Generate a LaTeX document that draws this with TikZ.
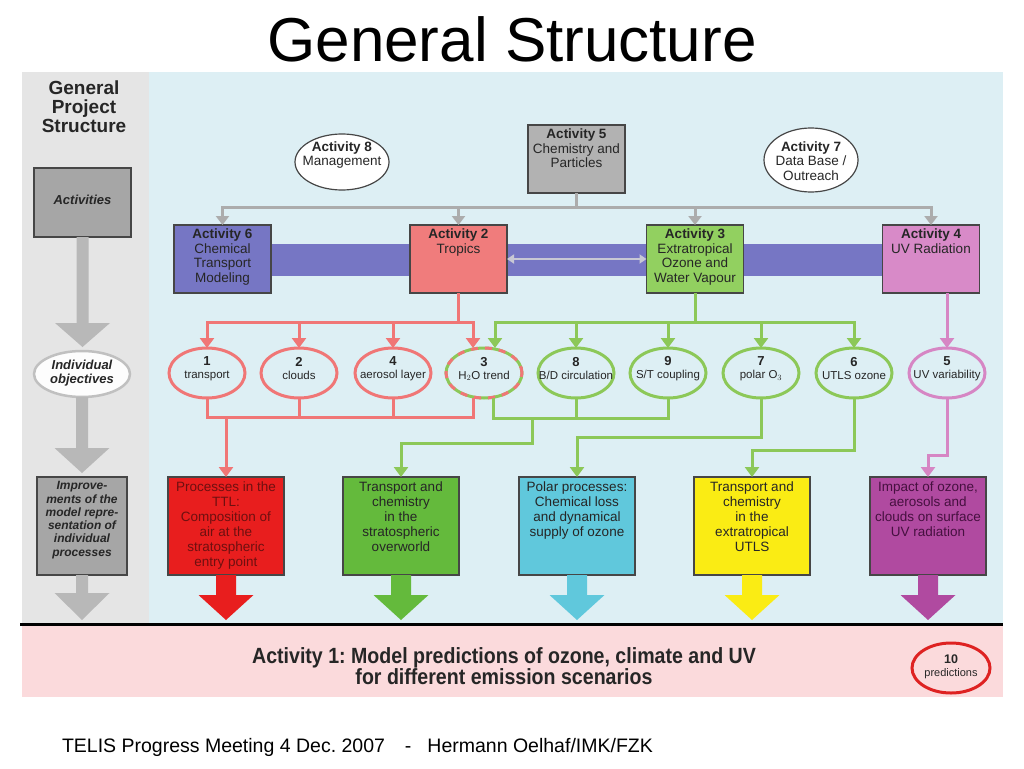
\documentclass[tikz,border=0pt]{standalone}
\usepackage{fontspec}
\setmainfont{Liberation Sans}
\usetikzlibrary{shapes.geometric,arrows.meta,calc}
\frenchspacing
\definecolor{bgblue}{RGB}{221,239,244}
\definecolor{panelgrey}{RGB}{229,229,229}
\definecolor{bandpink}{RGB}{251,218,220}
\definecolor{conngrey}{RGB}{172,172,172}
\definecolor{leftgrey}{RGB}{184,184,184}
\definecolor{boxgrey}{RGB}{166,166,166}
\definecolor{a5grey}{RGB}{178,178,178}
\definecolor{a6blue}{RGB}{118,118,196}
\definecolor{a2red}{RGB}{240,124,124}
\definecolor{a3green}{RGB}{146,208,96}
\definecolor{a4pink}{RGB}{216,138,200}
\definecolor{lred}{RGB}{240,118,118}
\definecolor{lgreen}{RGB}{140,200,88}
\definecolor{lpink}{RGB}{214,134,196}
\definecolor{bred}{RGB}{232,30,30}
\definecolor{bgreen}{RGB}{100,186,60}
\definecolor{bcyan}{RGB}{96,200,220}
\definecolor{byellow}{RGB}{250,236,20}
\definecolor{bpurple}{RGB}{176,74,160}
\definecolor{bordergrey}{RGB}{70,70,70}
\definecolor{predred}{RGB}{222,34,34}
\definecolor{darkred}{RGB}{110,16,16}
\definecolor{darkpurple}{RGB}{70,16,64}
\definecolor{dblarrow}{RGB}{200,200,212}
\definecolor{ovalgrey}{RGB}{192,192,192}
\newcommand{\fatarrow}[6]{\fill[#1] ($(#2)+(-#3,0)$) -- ++(0,#4) -- ++({#3-#5},0) -- ++(#5,#6) -- ++(#5,-#6) -- ++({#3-#5},0) -- ++(0,-#4) -- cycle;}
\begin{document}
\begin{tikzpicture}[x=1pt,y=-1pt,
  every node/.style={inner sep=0pt, outer sep=0pt},
  actbox/.style={draw=bordergrey, line width=1.2pt, minimum width=97pt, minimum height=68pt},
  probox/.style={draw=bordergrey, line width=1.3pt, minimum width=116pt, minimum height=98pt},
  obj/.style={ellipse, line width=3pt, minimum width=76pt, minimum height=50pt},
  oval/.style={ellipse, draw=bordergrey, line width=1.2pt, fill=white},
  boxtxt/.style={align=center, font=\fontsize{13.5}{14.5}\selectfont, text=black!85},
  objtxt/.style={align=center, font=\fontsize{11.5}{13}\selectfont, text=black!85},
  protxt/.style={align=center, font=\fontsize{13.5}{15}\selectfont, text=black!85},
  lefttxt/.style={align=center, font=\fontsize{13}{13.4}\selectfont\bfseries\itshape, text=black!85},
  arrowtip/.style={-{Triangle[width=14pt,length=10pt]}},
  greytip/.style={-{Triangle[width=13pt,length=9pt]}},
  rl/.style={draw=lred, line width=3pt},
  gl/.style={draw=lgreen, line width=3pt},
  pl/.style={draw=lpink, line width=3pt},
  yl/.style={draw=conngrey, line width=3pt},
]
\useasboundingbox (0,0) rectangle (1024,768);
\fill[white] (0,0) rectangle (1024,768);
% panels
\fill[panelgrey] (22,72) rectangle (149,623);
\fill[bgblue] (149,72) rectangle (1003,623);
\fill[bandpink] (22,625) rectangle (1003,697);
\draw[black, line width=3pt] (20,624) -- (1003,624);

% title and footer
\node[anchor=base, font=\fontsize{62}{70}\selectfont] (title) at (512,62) {General Structure};
\node[anchor=base west, font=\fontsize{19.5}{22}\selectfont] (foot) at (62,752) {TELIS Progress Meeting 4 Dec. 2007\hspace{20pt}-\hspace{16pt}Hermann Oelhaf/IMK/FZK};

% left column
\node[align=center, font=\fontsize{19}{19}\selectfont\bfseries, text=black!85] (gps) at (84,107) {General\\Project\\Structure};
\node[draw=bordergrey, line width=1.2pt, fill=boxgrey, minimum width=97pt, minimum height=69pt] (lact) at (82.5,202.5) {};
\node[lefttxt] (lactt) at (82.5,200) {Activities};
\node[ellipse, draw=ovalgrey, line width=2.5pt, fill=white!94!panelgrey, minimum width=96pt, minimum height=46pt] (lobj) at (82,374) {};
\node[lefttxt] (lobjt) at (82,373) {Individual\\objectives};
\node[draw=bordergrey, line width=1.2pt, fill=boxgrey, minimum width=90pt, minimum height=98pt] (limp) at (82,526) {};
\node[lefttxt, font=\fontsize{12}{13.3}\selectfont\bfseries\itshape, anchor=north] (limpt) at ($(limp.north)+(0,4.5)$) {Improve-\\ments of the\\model repre-\\sentation of\\individual\\processes};
\fatarrow{leftgrey}{lact.south}{6}{86}{27.5}{24}
\fatarrow{leftgrey}{lobj.south}{6}{51}{27.5}{25}
\fatarrow{leftgrey}{limp.south}{6}{18}{27.5}{27}

% band behind activity boxes
\fill[a6blue] (271,244) rectangle (883,276);

% top row
\node[oval, minimum width=94pt, minimum height=56pt] (a8) at (342,162) {};
\node[boxtxt] (a8t) at (342,155) {\textbf{Activity 8}\\Management};
\node[actbox, fill=a5grey] (a5) at (576.5,159) {};
\node[boxtxt, anchor=north] (a5t) at ($(a5.north)+(0,4)$) {\textbf{Activity 5}\\Chemistry and\\Particles};
\node[oval, minimum width=94pt, minimum height=64pt] (a7) at (811,160) {};
\node[boxtxt] (a7t) at (811,161) {\textbf{Activity 7}\\Data Base /\\Outreach};

% activity boxes
\node[actbox, fill=a6blue] (a6) at (222.5,259) {};
\node[actbox, fill=a2red] (a2) at (458.5,259) {};
\node[actbox, fill=a3green] (a3) at (695,259) {};
\node[actbox, fill=a4pink] (a4) at (931,259) {};
\node[boxtxt, anchor=north] (a6t) at ($(a6.north)+(0,4)$) {\textbf{Activity 6}\\Chemical\\Transport\\Modeling};
\node[boxtxt, anchor=north] (a2t) at ($(a2.north)+(0,4)$) {\textbf{Activity 2}\\Tropics};
\node[boxtxt, anchor=north] (a3t) at ($(a3.north)+(0,4)$) {\textbf{Activity 3}\\Extratropical\\Ozone and\\Water Vapour};
\node[boxtxt, anchor=north] (a4t) at ($(a4.north)+(0,4)$) {\textbf{Activity 4}\\UV Radiation};
\draw[{Triangle[width=9pt,length=7pt]}-{Triangle[width=9pt,length=7pt]}, draw=dblarrow, fill=dblarrow, line width=2pt] (a2.east) -- (a3.west);

% grey distribution
\coordinate (gbus) at ($(a5.south)+(0,14)$);
\draw[yl] (a5.south) -- (gbus);
\foreach \n in {a6,a2,a3,a4} \draw[yl, greytip] (gbus) -| (\n.north);

% objectives
\node[obj, draw=lred] (o1) at (207,373) {};
\node[obj, draw=lred] (o2) at (299,373) {};
\node[obj, draw=lred] (o4) at (393,373) {};
\node[obj, draw=lgreen] (o3) at (484,373) {};
\draw[lred, line width=3pt, dash pattern=on 7pt off 7pt] (o3.center) ellipse [x radius=38pt, y radius=25pt];
\node[obj, draw=lgreen] (o8) at (576,373) {};
\node[obj, draw=lgreen] (o9) at (668,373) {};
\node[obj, draw=lgreen] (o7) at (761,373) {};
\node[obj, draw=lgreen] (o6) at (854,373) {};
\node[obj, draw=lpink] (o5) at (947,373) {};
\node[objtxt] (o1t) at (207,369) {\textbf{\fontsize{13}{13}\selectfont 1}\\transport};
\node[objtxt] (o2t) at (299,369) {\textbf{\fontsize{13}{13}\selectfont 2}\\clouds};
\node[objtxt] (o4t) at (393,369) {\textbf{\fontsize{13}{13}\selectfont 4}\\aerosol layer};
\node[objtxt] (o3t) at (484,369) {\textbf{\fontsize{13}{13}\selectfont 3}\\H$_2$O trend};
\node[objtxt] (o8t) at (576,369) {\textbf{\fontsize{13}{13}\selectfont 8}\\B/D circulation};
\node[objtxt] (o9t) at (668,369) {\textbf{\fontsize{13}{13}\selectfont 9}\\S/T coupling};
\node[objtxt] (o7t) at (761,369) {\textbf{\fontsize{13}{13}\selectfont 7}\\polar O$_3$};
\node[objtxt] (o6t) at (854,369) {\textbf{\fontsize{13}{13}\selectfont 6}\\UTLS ozone};
\node[objtxt] (o5t) at (947,369) {\textbf{\fontsize{13}{13}\selectfont 5}\\UV variability};

\coordinate (o3rt) at ($(o3.north)+(-11,0)$);
\coordinate (o3gt) at ($(o3.north)+(11,0)$);
\coordinate (o3rb) at ($(o3.south)+(-11,0)$);
\coordinate (o3gb) at ($(o3.south)+(9,0)$);

% product boxes
\node[probox, fill=bred] (pb1) at (226,526) {};
\node[probox, fill=bgreen] (pb2) at (401,526) {};
\node[probox, fill=bcyan] (pb3) at (577,526) {};
\node[probox, fill=byellow] (pb4) at (752,526) {};
\node[probox, fill=bpurple] (pb5) at (928,526) {};
\node[protxt, text=darkred, anchor=north] (pb1t) at ($(pb1.north)+(0,5)$) {Processes in the\\TTL:\\Composition of\\air at the\\stratospheric\\entry point};
\node[protxt, anchor=north] (pb2t) at ($(pb2.north)+(0,5)$) {Transport and\\chemistry\\in the\\stratospheric\\overworld};
\node[protxt, anchor=north] (pb3t) at ($(pb3.north)+(0,5)$) {Polar processes:\\Chemical loss\\and dynamical\\supply of ozone};
\node[protxt, anchor=north] (pb4t) at ($(pb4.north)+(0,5)$) {Transport and\\chemistry\\in the\\extratropical\\UTLS};
\node[protxt, text=darkpurple, anchor=north] (pb5t) at ($(pb5.north)+(0,5)$) {Impact of ozone,\\aerosols and\\clouds on surface\\UV radiation};
\fatarrow{bred}{pb1.south}{10}{20}{27.5}{25}
\fatarrow{bgreen}{pb2.south}{10}{20}{27.5}{25}
\fatarrow{bcyan}{pb3.south}{10}{20}{27.5}{25}
\fatarrow{byellow}{pb4.south}{10}{20}{27.5}{25}
\fatarrow{bpurple}{pb5.south}{10}{20}{27.5}{25}

% red connectors
\draw[rl, arrowtip] (a2.south) |- ($(o1.north)+(0,-26)$) -- (o1.north);
\draw[rl, arrowtip] (a2.south) |- ($(o3rt)+(0,-26)$) -- (o3rt);
\draw[rl, arrowtip] ($(o2.north)+(0,-26)$) -- (o2.north);
\draw[rl, arrowtip] ($(o4.north)+(0,-26)$) -- (o4.north);
\draw[rl] (o1.south) |- ($(o3rb)+(0,19)$) -- (o3rb);
\draw[rl] (o2.south) -- ++(0,19);
\draw[rl] (o4.south) -- ++(0,19);
\coordinate (ry) at (0,417);
\draw[rl, arrowtip] (pb1.north |- ry) -- (pb1.north);

% green connectors
\draw[gl, arrowtip] (a3.south) |- ($(o3gt)+(0,-26)$) -- (o3gt);
\draw[gl, arrowtip] (a3.south) |- ($(o6.north)+(0,-26)$) -- (o6.north);
\draw[gl, arrowtip] ($(o8.north)+(0,-26)$) -- (o8.north);
\draw[gl, arrowtip] ($(o9.north)+(0,-26)$) -- (o9.north);
\draw[gl, arrowtip] ($(o7.north)+(0,-26)$) -- (o7.north);
\draw[gl] (o3gb) |- ($(o9.south)+(0,20)$) -- (o9.south);
\draw[gl] (o8.south) -- ++(0,20);
\coordinate (gj1) at (532,418);
\draw[gl, arrowtip] (gj1) |- ($(pb2.north)+(0,-34)$) -- (pb2.north);
\draw[gl, arrowtip] (o7.south) |- ($(pb3.north)+(0,-40)$) -- (pb3.north);
\draw[gl, arrowtip] (o6.south) |- ($(pb4.north)+(0,-27)$) -- (pb4.north);

% pink connectors
\draw[pl, arrowtip] (a4.south -| o5.north) -- (o5.north);
\draw[pl, arrowtip] (o5.south) |- ($(pb5.north)+(0,-22)$) -- (pb5.north);

% bottom band
\node[font=\fontsize{22}{19.5}\selectfont\bfseries, text=black!85] (act1) at (504,669) {\scalebox{0.89}[1]{\begin{tabular}{@{}c@{}}Activity 1: Model predictions of ozone, climate and UV\\for different emission scenarios\end{tabular}}};
\node[ellipse, draw=predred, line width=3pt, minimum width=78pt, minimum height=50pt] (pred) at (951,668) {};
\node[align=center, font=\fontsize{11}{13}\selectfont, text=black!85] (predt) at (951,667) {\textbf{\fontsize{12.5}{13}\selectfont 10}\\predictions};
\end{tikzpicture}
\end{document}
